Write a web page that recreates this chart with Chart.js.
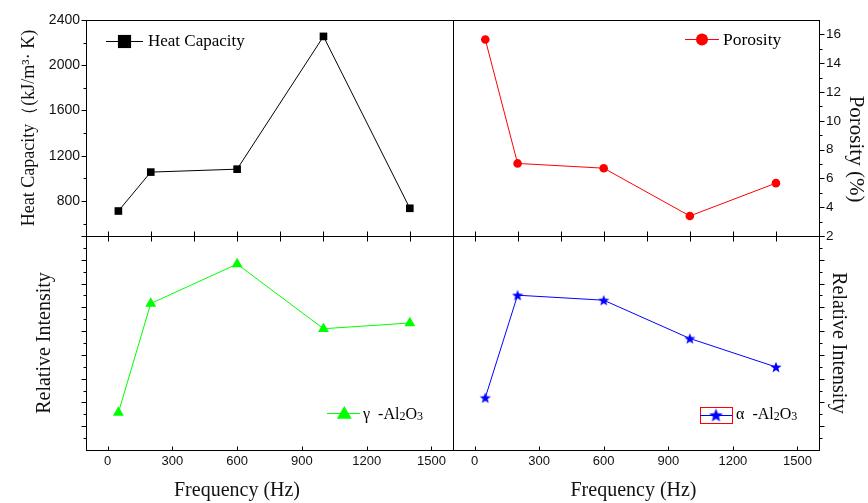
<!DOCTYPE html>
<html>
<head>
<meta charset="utf-8">
<script src="https://cdn.jsdelivr.net/npm/chart.js@4.4.1/dist/chart.umd.min.js"></script>
<style>
html,body{margin:0;padding:0;background:#fff;}
#wrap{position:relative;width:868px;height:503px;overflow:hidden;background:#fff;}
#wrap canvas{position:absolute;left:0;top:0;}
</style>
</head>
<body>
<div id="wrap">
<canvas id="cHeat" width="868" height="503"></canvas>
<canvas id="cPor" width="868" height="503"></canvas>
<canvas id="cGamma" width="868" height="503"></canvas>
<canvas id="cAlpha" width="868" height="503"></canvas>
</div>
<script>
// ---------------- data ----------------
const frequencies = [50, 200, 600, 1000, 1400];
const heatCapacity = [711, 1055, 1081, 2255, 735];
const porosity = [15.65, 7.04, 6.71, 3.39, 5.67];
const gammaIntensity = [1.57, 6.16, 7.82, 5.10, 5.34];
const alphaIntensity = [2.20, 6.51, 6.30, 4.69, 3.49];

const freqTicks = [0, 300, 600, 900, 1200, 1500];
const freqTicksTop = [0, 200, 400, 600, 800, 1000, 1200, 1400];
const heatTicks = [800, 1200, 1600, 2000, 2400];
const heatMinorTicks = [600, 1000, 1400, 1800, 2200];
const porosityTicks = [2, 4, 6, 8, 10, 12, 14, 16];
const porosityMinorTicks = [3, 5, 7, 9, 11, 13, 15];
const intensityTicks = [1, 2, 3, 4, 5, 6, 7, 8, 9];
const intensityMinorTicks = [0.5, 1.5, 2.5, 3.5, 4.5, 5.5, 6.5, 7.5, 8.5];

const seriesLabels = ['Heat Capacity', 'Porosity', 'γ  -Al2O3', 'α  -Al2O3'];
const axisTitles = {
  heat: 'Heat Capacity（(kJ/m³· K)',
  porosity: '        Porosity (%)',
  intensity: 'Relative Intensity',
  freqLeft: 'Frequency (Hz)             ',
  freqRight: 'Frequency (Hz) '
};

// ---------------- helpers ----------------
Chart.defaults.font.family = '"Liberation Sans", Arial, sans-serif';
Chart.defaults.color = '#111';

function makeStar(R, color) {
  const s = Math.ceil(R * 2) + 2;
  const c = document.createElement('canvas');
  c.width = s; c.height = s;
  const g = c.getContext('2d');
  g.fillStyle = color;
  g.beginPath();
  const cx = s / 2, cy = s / 2 + R * 0.1, r = R * 0.42;
  for (let i = 0; i < 10; i++) {
    const a = -Math.PI / 2 + i * Math.PI / 5;
    const rr = i % 2 ? r : R;
    g.lineTo(cx + rr * Math.cos(a), cy + rr * Math.sin(a));
  }
  g.closePath();
  g.fill();
  return c;
}
const starPoint = makeStar(5.9, '#0000ff');
const starLegend = makeStar(7.2, '#0000ff');

const toPoints = (xs, ys) => xs.map((x, i) => ({x: x, y: ys[i]}));
const setTicks = arr => scale => { scale.ticks = arr.map(v => ({value: v})); };
const plainLabel = v => String(v);

const framePlugin = {
  id: 'frame',
  afterDatasetsDraw(chart) {
    const {ctx, chartArea: a} = chart;
    ctx.save();
    ctx.strokeStyle = '#000';
    ctx.lineWidth = 1;
    ctx.strokeRect(a.left + 0.5, a.top + 0.5, a.right - a.left, a.bottom - a.top);
    ctx.restore();
  }
};

const ticksPlugin = {
  id: 'axisTicks',
  afterDatasetsDraw(chart, args, opts) {
    if (!opts || !opts.list) return;
    const {ctx, chartArea: a} = chart;
    ctx.save();
    ctx.strokeStyle = '#000';
    ctx.lineWidth = 1;
    opts.list.forEach(t => {
      const sc = chart.scales[t.scale];
      t.values.forEach(v => {
        const p = Math.round(sc.getPixelForValue(v)) + 0.5;
        ctx.beginPath();
        if (sc.isHorizontal()) {
          const y0 = a.bottom + 0.5;
          let y1 = y0, y2 = y0;
          if (t.dir === 'out' || t.dir === 'both') y2 = y0 + t.len;
          if (t.dir === 'in' || t.dir === 'both') y1 = y0 - t.len;
          ctx.moveTo(p, y1); ctx.lineTo(p, y2);
        } else {
          const left = sc.position === 'left';
          const x0 = (left ? a.left : a.right) + 0.5;
          const outSign = left ? -1 : 1;
          let x1 = x0, x2 = x0;
          if (t.dir === 'out' || t.dir === 'both') x2 = x0 + outSign * t.len;
          if (t.dir === 'in' || t.dir === 'both') x1 = x0 - outSign * t.len;
          ctx.moveTo(x1, p); ctx.lineTo(x2, p);
        }
        ctx.stroke();
      });
    });
    ctx.restore();
  }
};

const legendPlugin = {
  id: 'panelLegend',
  afterDraw(chart, args, o) {
    if (!o || o.x0 === undefined) return;
    const ctx = chart.ctx;
    const ds = chart.data.datasets[0];
    ctx.save();
    if (o.box) {
      ctx.strokeStyle = o.box.color;
      ctx.lineWidth = 1;
      ctx.strokeRect(o.box.x + 0.5, o.box.y + 0.5, o.box.w, o.box.h);
    }
    ctx.strokeStyle = ds.borderColor;
    ctx.lineWidth = 1;
    ctx.beginPath();
    ctx.moveTo(o.x0, o.y + 0.5);
    ctx.lineTo(o.x1, o.y + 0.5);
    ctx.stroke();
    ctx.fillStyle = ds.backgroundColor;
    ctx.strokeStyle = ds.backgroundColor;
    Chart.helpers.drawPoint(ctx, {pointStyle: o.pointStyle, radius: o.radius, rotation: 0, borderWidth: 0}, o.mx, o.my);
    ctx.fillStyle = '#000';
    ctx.textBaseline = 'alphabetic';
    ctx.textAlign = 'left';
    let x = o.tx;
    const runs = ds.label.match(/\d+|\D+/g);
    runs.forEach(run => {
      const isDigit = /^\d+$/.test(run) && o.subSize;
      const size = isDigit ? o.subSize : o.fontSize;
      ctx.font = size + 'px "Liberation Serif", "Times New Roman", serif';
      ctx.fillText(run, x, o.ty + (isDigit ? 1 : 0));
      x += ctx.measureText(run).width;
    });
    ctx.restore();
  }
};

const titleFont = size => ({family: '"Liberation Serif", "Times New Roman", serif', size: size});

function xScaleTop() {
  return {
    type: 'linear', position: 'bottom', min: -100, max: 1600,
    afterBuildTicks: setTicks(freqTicksTop),
    ticks: {display: false},
    grid: {display: false, drawTicks: false},
    border: {display: false},
    afterFit: s => { s.height = 0; }
  };
}
function xScaleBottom(titleText) {
  return {
    type: 'linear', position: 'bottom', min: -100, max: 1600,
    afterBuildTicks: setTicks(freqTicks),
    ticks: {display: true, padding: 4, font: {size: 13}, color: '#111', maxRotation: 0, autoSkip: false, callback: plainLabel},
    grid: {display: false, drawTicks: false},
    border: {display: false},
    title: {display: true, text: titleText, font: titleFont(20), color: '#111', padding: {top: 0, bottom: 0}},
    afterFit: s => { s.height = 53; }
  };
}
function baseOptions(padding) {
  return {
    responsive: false, animation: false, devicePixelRatio: 1,
    layout: {padding: padding},
    events: []
  };
}

// ---------------- top-left: heat capacity ----------------
new Chart(document.getElementById('cHeat'), {
  type: 'line',
  data: {datasets: [{
    label: seriesLabels[0],
    data: toPoints(frequencies, heatCapacity),
    borderColor: '#000', backgroundColor: '#000', borderWidth: 1,
    pointStyle: 'rect', pointRadius: 5.4, pointBorderWidth: 0, tension: 0, fill: false
  }]},
  options: Object.assign(baseOptions({left: 0, top: 20, right: 415, bottom: 267}), {
    plugins: {
      legend: {display: false}, tooltip: {enabled: false},
      axisTicks: {list: [
        {scale: 'y', values: heatTicks, len: 5, dir: 'out'},
        {scale: 'y', values: heatMinorTicks, len: 3, dir: 'out'},
        {scale: 'x', values: freqTicksTop, len: 5, dir: 'both'}
      ]},
      panelLegend: {x0: 106, x1: 143, y: 41, mx: 124.5, my: 41.5, pointStyle: 'rect', radius: 9.3, tx: 148, ty: 46, fontSize: 17}
    },
    scales: {
      x: xScaleTop(),
      y: {
        type: 'linear', position: 'left', min: 490, max: 2400,
        afterBuildTicks: setTicks(heatTicks),
        ticks: {padding: 6, font: {size: 14}, color: '#111', callback: plainLabel},
        grid: {display: false, drawTicks: false},
        border: {display: false},
        title: {display: true, text: axisTitles.heat, font: titleFont(18), color: '#111', padding: {top: 18, bottom: 0}},
        afterFit: s => { s.width = 86; }
      }
    }
  }),
  plugins: [framePlugin, ticksPlugin, legendPlugin]
});

// ---------------- top-right: porosity ----------------
new Chart(document.getElementById('cPor'), {
  type: 'line',
  data: {datasets: [{
    label: seriesLabels[1],
    data: toPoints(frequencies, porosity),
    borderColor: '#ff0000', backgroundColor: '#ff0000', borderWidth: 1,
    pointStyle: 'circle', pointRadius: 4.3, pointBorderWidth: 0, tension: 0, fill: false
  }]},
  options: Object.assign(baseOptions({left: 453, top: 20, right: 0, bottom: 267}), {
    plugins: {
      legend: {display: false}, tooltip: {enabled: false},
      axisTicks: {list: [
        {scale: 'y', values: porosityTicks, len: 5, dir: 'out'},
        {scale: 'y', values: porosityMinorTicks, len: 3, dir: 'out'},
        {scale: 'x', values: freqTicksTop, len: 5, dir: 'both'}
      ]},
      panelLegend: {x0: 685, x1: 719, y: 39, mx: 702, my: 39.5, pointStyle: 'circle', radius: 6, tx: 723, ty: 44.5, fontSize: 17.5}
    },
    scales: {
      x: xScaleTop(),
      y: {
        type: 'linear', position: 'right', min: 2, max: 17,
        afterBuildTicks: setTicks(porosityTicks),
        ticks: {padding: 7, font: {size: 13.5}, color: '#111', callback: plainLabel},
        grid: {display: false, drawTicks: false},
        border: {display: false},
        title: {display: true, text: axisTitles.porosity, font: titleFont(21), color: '#111', padding: {top: 0, bottom: 0}},
        afterFit: s => { s.width = 49; }
      }
    }
  }),
  plugins: [framePlugin, ticksPlugin, legendPlugin]
});

// ---------------- bottom-left: gamma-Al2O3 ----------------
new Chart(document.getElementById('cGamma'), {
  type: 'line',
  data: {datasets: [{
    label: seriesLabels[2],
    data: toPoints(frequencies, gammaIntensity),
    borderColor: '#00ff00', backgroundColor: '#00ff00', borderWidth: 1,
    pointStyle: 'triangle', pointRadius: 6.3, pointBorderWidth: 0, tension: 0, fill: false
  }]},
  options: Object.assign(baseOptions({left: 0, top: 236, right: 415, bottom: 0}), {
    plugins: {
      legend: {display: false}, tooltip: {enabled: false},
      axisTicks: {list: [
        {scale: 'y', values: intensityTicks, len: 5, dir: 'out'},
        {scale: 'y', values: intensityMinorTicks, len: 3, dir: 'out'},
        {scale: 'x', values: freqTicks, len: 4, dir: 'in'}
      ]},
      panelLegend: {x0: 327, x1: 360, y: 413, mx: 344.3, my: 414.5, pointStyle: 'triangle', radius: 8.6, tx: 363, ty: 418.5, fontSize: 16, subSize: 12}
    },
    scales: {
      x: xScaleBottom(axisTitles.freqLeft),
      y: {
        type: 'linear', position: 'left', min: 0, max: 9,
        afterBuildTicks: setTicks(intensityTicks),
        ticks: {display: false},
        grid: {display: false, drawTicks: false},
        border: {display: false},
        title: {display: true, text: axisTitles.intensity, font: titleFont(20), color: '#111', padding: {top: 33, bottom: 0}},
        afterFit: s => { s.width = 86; }
      }
    }
  }),
  plugins: [framePlugin, ticksPlugin, legendPlugin]
});

// ---------------- bottom-right: alpha-Al2O3 ----------------
new Chart(document.getElementById('cAlpha'), {
  type: 'line',
  data: {datasets: [{
    label: seriesLabels[3],
    data: toPoints(frequencies, alphaIntensity),
    borderColor: '#0000ff', backgroundColor: '#0000ff', borderWidth: 1,
    pointStyle: starPoint, pointRadius: 6, pointBorderWidth: 0, tension: 0, fill: false
  }]},
  options: Object.assign(baseOptions({left: 453, top: 236, right: 0, bottom: 0}), {
    plugins: {
      legend: {display: false}, tooltip: {enabled: false},
      axisTicks: {list: [
        {scale: 'y', values: intensityTicks, len: 5, dir: 'out'},
        {scale: 'y', values: intensityMinorTicks, len: 3, dir: 'out'},
        {scale: 'x', values: freqTicks, len: 4, dir: 'in'}
      ]},
      panelLegend: {x0: 700, x1: 732, y: 415, mx: 716, my: 415, pointStyle: starLegend, radius: 7, tx: 736, ty: 418.5, fontSize: 16, subSize: 12,
        box: {x: 700, y: 407, w: 32, h: 16, color: '#ff0000'}}
    },
    scales: {
      x: xScaleBottom(axisTitles.freqRight),
      y: {
        type: 'linear', position: 'right', min: 0, max: 9,
        afterBuildTicks: setTicks(intensityTicks),
        ticks: {display: false},
        grid: {display: false, drawTicks: false},
        border: {display: false},
        title: {display: true, text: axisTitles.intensity, font: titleFont(20), color: '#111', padding: {top: 18, bottom: 0}},
        afterFit: s => { s.width = 49; }
      }
    }
  }),
  plugins: [framePlugin, ticksPlugin, legendPlugin]
});
</script>
</body>
</html>
